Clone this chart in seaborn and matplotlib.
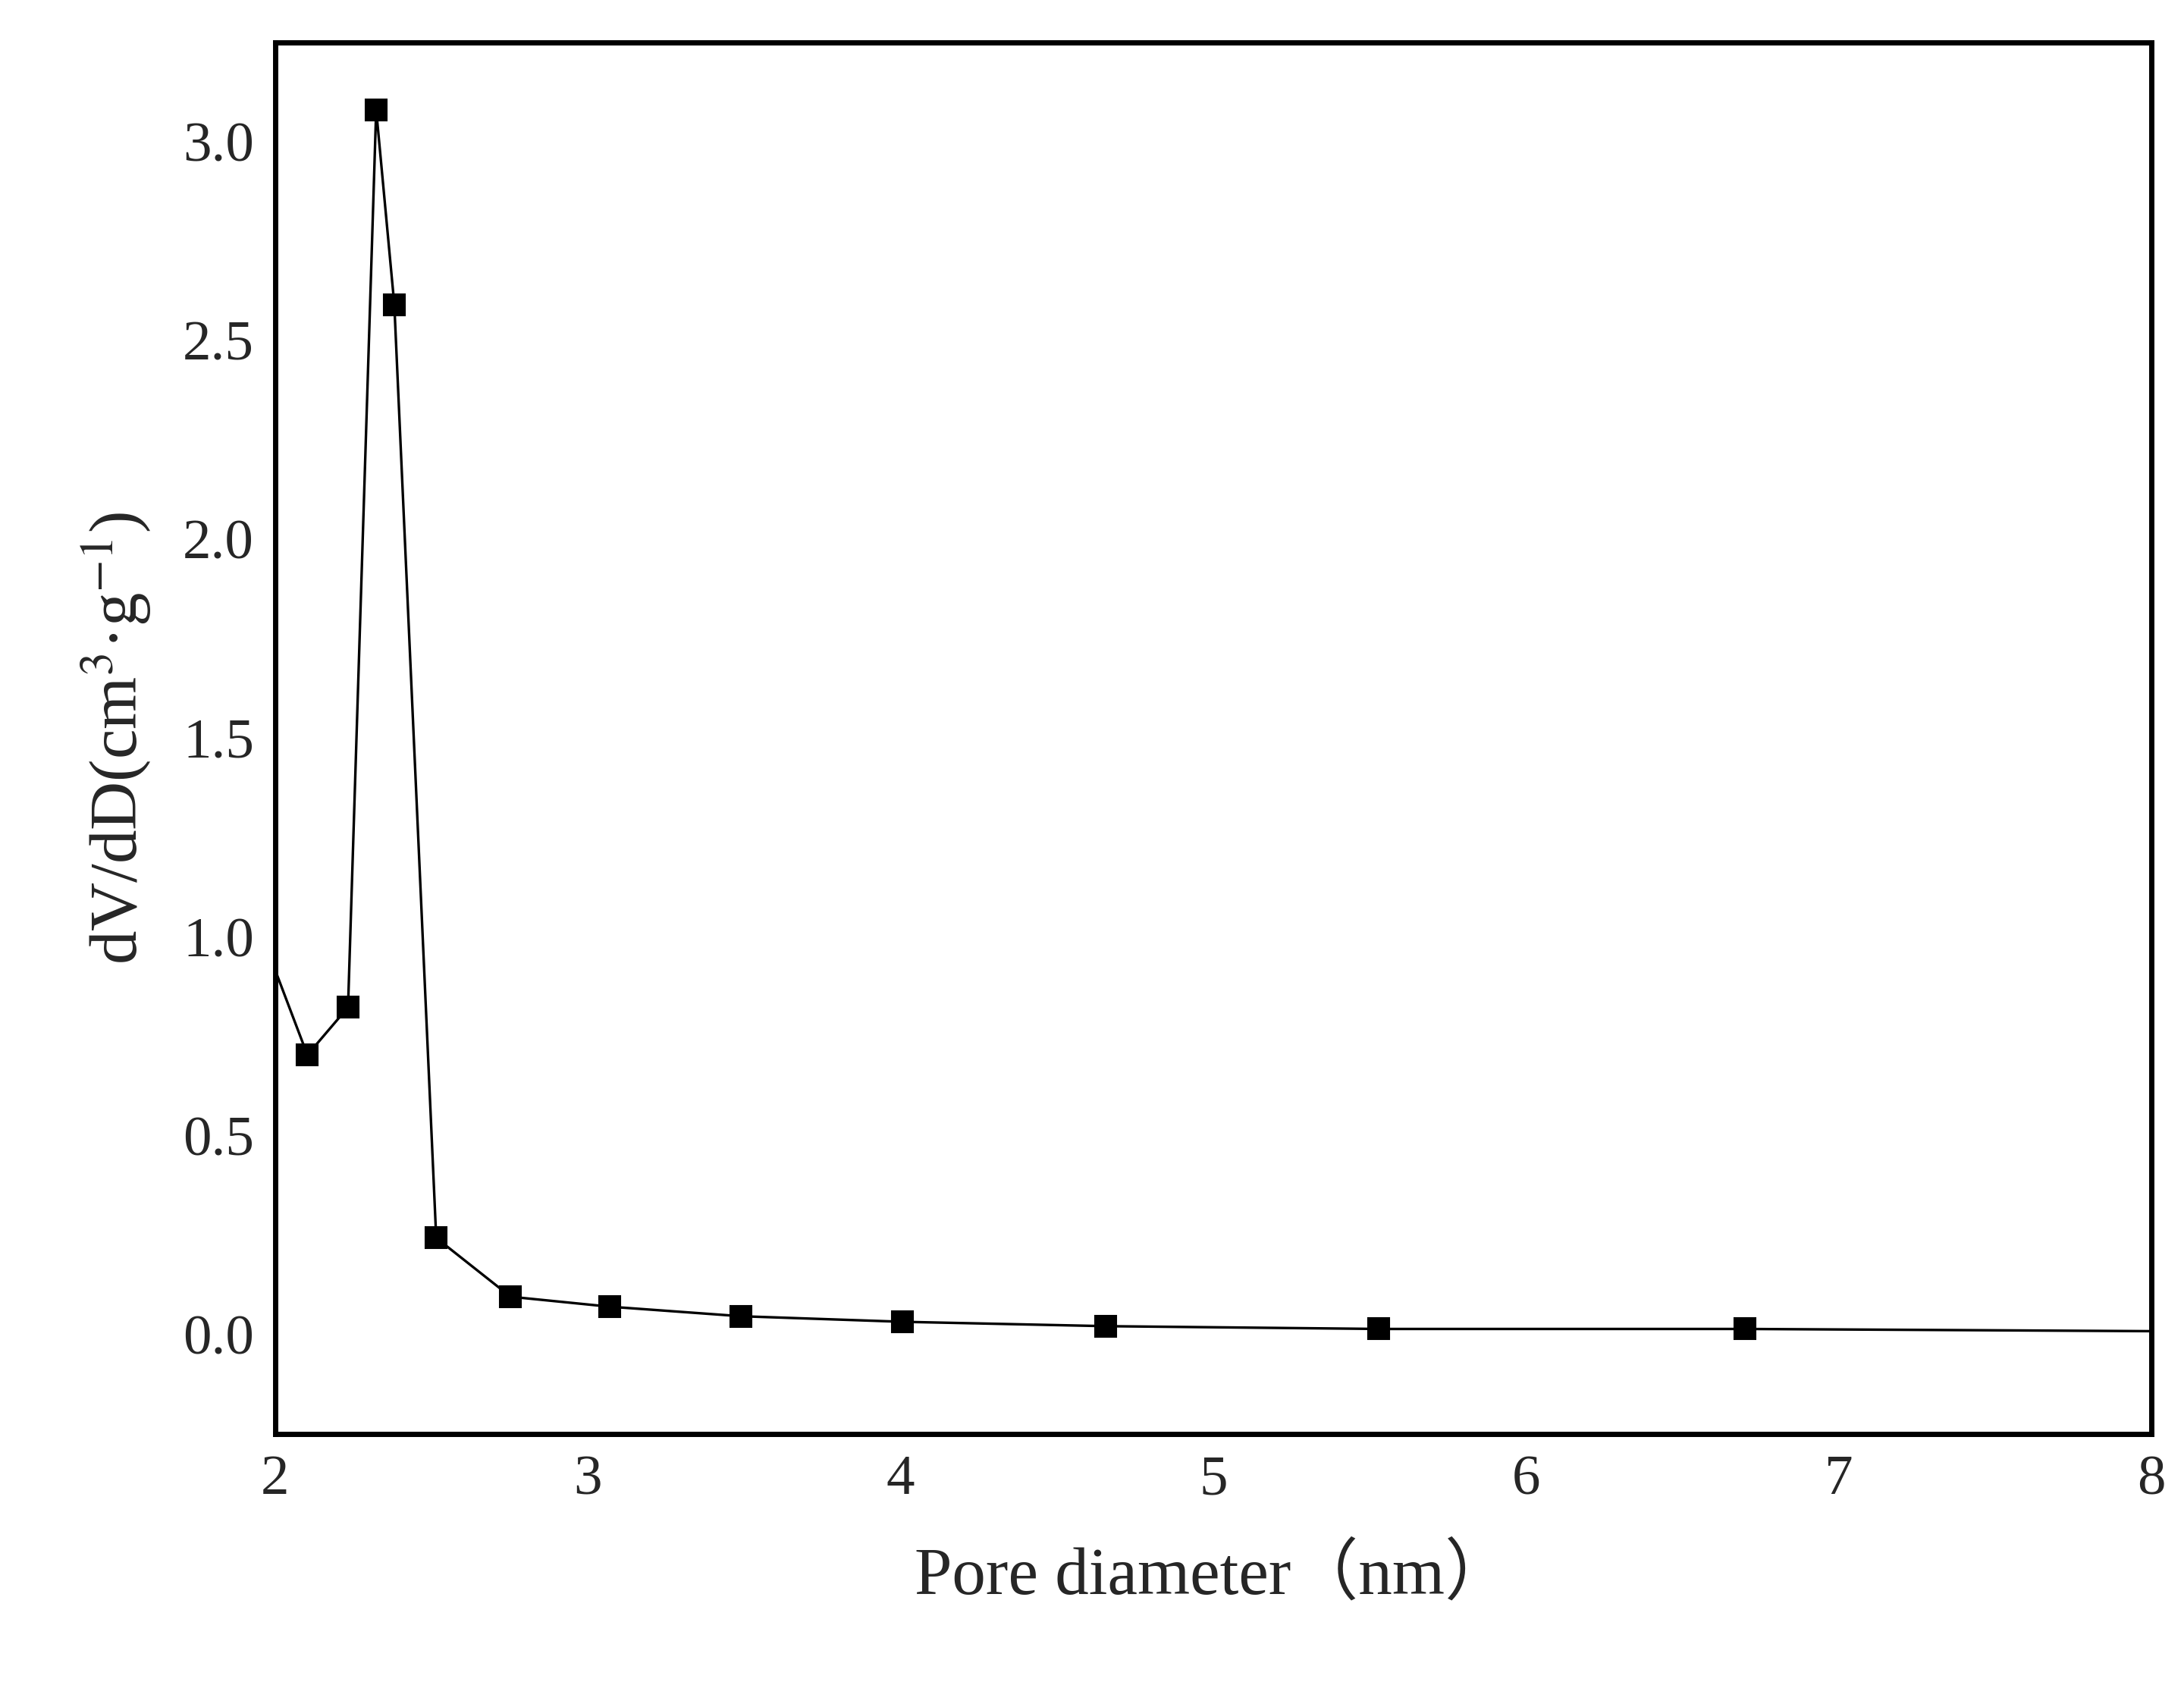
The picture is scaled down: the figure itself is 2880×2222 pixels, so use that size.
import numpy as np
import matplotlib.pyplot as plt
import seaborn as sns
from matplotlib.ticker import MultipleLocator

sns.set_style("white")
plt.rcParams['font.family'] = ['Liberation Serif', 'Noto Sans CJK SC']
plt.rcParams['mathtext.fontset'] = 'stix'

# Pore size distribution
diameter = [1.95, 2.103, 2.233, 2.323, 2.381, 2.515, 2.753, 3.07, 3.49, 4.007, 4.657, 5.53, 6.70, 9.5]
dvdd = [1.02, 0.703, 0.823, 3.08, 2.59, 0.243, 0.095, 0.07, 0.046, 0.032, 0.021, 0.014, 0.014, 0.002]

fig = plt.figure(figsize=(14.4, 11.11), dpi=200)
ax = fig.add_axes([0.126, 0.149, 0.859, 0.826])

sns.lineplot(x=diameter, y=dvdd, ax=ax, color='black', linewidth=1.2,
             marker='s', markersize=10, markeredgecolor='black', markerfacecolor='black')

ax.set_xlim(2, 8)
ax.set_ylim(-0.25, 3.25)
ax.xaxis.set_major_locator(MultipleLocator(1))
ax.xaxis.set_minor_locator(MultipleLocator(0.5))
ax.yaxis.set_major_locator(MultipleLocator(0.5))
ax.yaxis.set_minor_locator(MultipleLocator(0.25))
ax.yaxis.set_major_formatter(plt.FormatStrFormatter('%.1f'))
ax.tick_params(which='both', direction='in', width=2, labelsize=27, pad=10)
ax.tick_params(which='major', length=10)
ax.tick_params(which='minor', length=6)
for s in ax.spines.values():
    s.set_linewidth(2.5)
    s.set_color('black')

ax.set_xlabel('Pore diameter（nm）', fontsize=32, labelpad=18)
ax.set_ylabel(r'dV/dD(cm$^{3}$·g$^{-1}$)', fontsize=32, labelpad=14)

plt.savefig('out.png')
